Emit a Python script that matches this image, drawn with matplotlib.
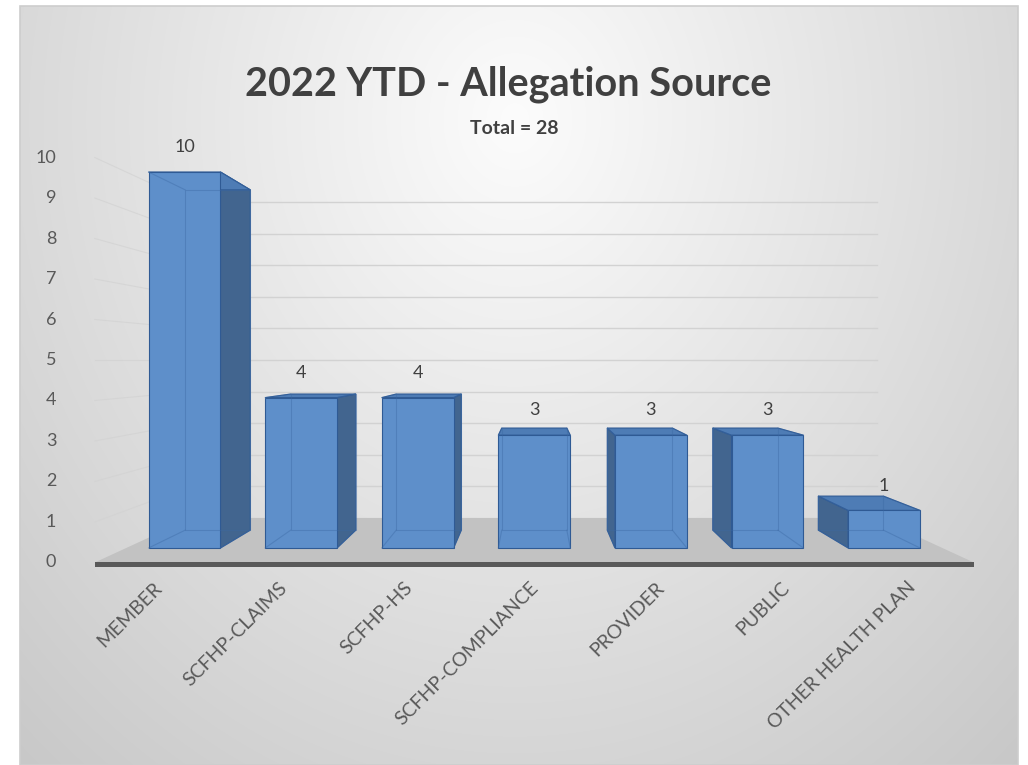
import numpy as np
import matplotlib
matplotlib.use("Agg")
import matplotlib.pyplot as plt
from matplotlib.patches import Polygon, Rectangle

# ---------------- data ----------------
categories = ["MEMBER", "SCFHP-CLAIMS", "SCFHP-HS", "SCFHP-COMPLIANCE",
              "PROVIDER", "PUBLIC", "OTHER HEALTH PLAN"]
counts = [10, 4, 4, 3, 3, 3, 1]
y_ticks = list(range(0, 11))
title_text = "2022 YTD - Allegation Source"
subtitle_text = "Total = 28"

# ---------------- style / layout ----------------
FONT = ["Lato", "DejaVu Sans"]
plt.rcParams["font.family"] = FONT
W, H = 1028, 765
fig = plt.figure(figsize=(W / 100, H / 100), dpi=100)
fig.patch.set_facecolor("white")

# background gradient (chart area)
bg = fig.add_axes([0, 0, 1, 1])
bg.set_xlim(0, W); bg.set_ylim(H, 0); bg.axis("off")
cx0, cy0, cx1, cy1 = 20, 6, 1018, 765
xx, yy = np.meshgrid(np.arange(cx0, cx1) + 0.5, np.arange(cy0, cy1) + 0.5)
r = np.sqrt(((xx - 515) / 600) ** 2 + ((yy - 120) / 700) ** 2)
g = np.clip(252 - 42 * r, 0, 255) / 255
bg.imshow(np.dstack([g, g, g]), extent=(cx0, cx1, cy1, cy0), aspect="auto",
          interpolation="bilinear", zorder=0)
bg.add_patch(Rectangle((cx0, cy0), cx1 - cx0, cy1 - cy0, fill=False,
                       ec="#cdcdcd", lw=1.2, zorder=1))

# main axes: units = categories (x) and values (y) in the bars' front plane
PX_CAT, PX_VAL = 116.6, 37.6
X0_PX, Y0_PX = 184.5, 548.0
ax = fig.add_axes([0, 0, 1, 1])
ax.set_xlim(-X0_PX / PX_CAT, (W - X0_PX) / PX_CAT)
ax.set_ylim((Y0_PX - H) / PX_VAL, Y0_PX / PX_VAL)
ax.axis("off")
ax.patch.set_alpha(0)

n = len(categories)
C = (n - 1) / 2.0   # vanishing point x (category units)
EYE = 5.0           # vanishing point height (value units)
K_AXIS, K_FRONT, K_BACK, K_WALL = 1.077, 1.0, 0.905, 0.84
BW = 0.617


def proj(x, y, k):
    return (C + (x - C) * k, EYE + (y - EYE) * k)


L, R = -0.5, n - 0.5

# gridlines: back wall + left side wall
grid_c = "#d2d2d2"
for v in y_ticks[1:]:
    p1, p2 = proj(L, v, K_WALL), proj(R, v, K_WALL)
    ax.plot([p1[0], p2[0]], [p1[1], p2[1]], color=grid_c, lw=1.0, zorder=2)
    p0 = proj(L, v, K_AXIS)
    ax.plot([p0[0], p1[0]], [p0[1], p1[1]], color=grid_c, lw=0.8, alpha=0.7, zorder=2)

# floor
floor = [proj(L, 0, K_AXIS), proj(R, 0, K_AXIS), proj(R, 0, K_WALL), proj(L, 0, K_WALL)]
ax.add_patch(Polygon(floor, closed=True, fc="#c2c2c2", ec="none", zorder=3))
edge = [proj(L, 0, K_AXIS), proj(R, 0, K_AXIS), proj(R, -0.11, K_AXIS), proj(L, -0.11, K_AXIS)]
ax.add_patch(Polygon(edge, closed=True, fc="#595959", ec="none", zorder=3))

# y tick labels
for v in y_ticks:
    px, py = proj(L, v, K_AXIS)
    ax.text(px - 0.33, py, str(v), ha="right", va="center", fontsize=13,
            color="#595959", zorder=6)

# bars
FRONT_C, SIDE_C, TOP_C, EDGE_C = "#5e8fca", "#42658f", "#4e7cb5", "#2f5a94"
for i, v in enumerate(counts):
    xl, xr = i - BW / 2, i + BW / 2
    z = 10 + i
    if i < C:
        side = [proj(xr, 0, K_FRONT), proj(xr, v, K_FRONT), proj(xr, v, K_BACK), proj(xr, 0, K_BACK)]
        ax.add_patch(Polygon(side, closed=True, fc=SIDE_C, ec=EDGE_C, lw=0.8, zorder=z))
    elif i > C:
        side = [proj(xl, 0, K_FRONT), proj(xl, v, K_FRONT), proj(xl, v, K_BACK), proj(xl, 0, K_BACK)]
        ax.add_patch(Polygon(side, closed=True, fc=SIDE_C, ec=EDGE_C, lw=0.8, zorder=z))
    top = [proj(xl, v, K_FRONT), proj(xr, v, K_FRONT), proj(xr, v, K_BACK), proj(xl, v, K_BACK)]
    ax.add_patch(Polygon(top, closed=True, fc=TOP_C, ec=EDGE_C, lw=0.8, zorder=z))
    ax.bar(i, v, width=BW, bottom=0, color=FRONT_C, edgecolor=EDGE_C, lw=0.8, zorder=z + 0.1)
    # see-through back edges
    back = [proj(xl, 0, K_BACK), proj(xr, 0, K_BACK), proj(xr, v, K_BACK), proj(xl, v, K_BACK)]
    ax.add_patch(Polygon(back, closed=True, fill=False, ec="#3b68a3", lw=0.8,
                         alpha=0.4, zorder=z + 0.2))
    for (xa, ya) in [(xl, 0), (xl, v), (xr, v), (xr, 0)]:
        pf, pb = proj(xa, ya, K_FRONT), proj(xa, ya, K_BACK)
        ax.plot([pf[0], pb[0]], [pf[1], pb[1]], color="#3b68a3", lw=0.8, alpha=0.4, zorder=z + 0.2)
    # data label
    ax.text(i, v + 0.66, str(v), ha="center", va="center", fontsize=13,
            color="#404040", zorder=30)

# category labels
for i, cat in enumerate(categories):
    px, py = proj(i, 0, K_AXIS)
    ax.text(px - 0.04, -0.82, cat, ha="right", va="top", rotation=45,
            rotation_mode="anchor", fontsize=14, color="#595959", zorder=30)

# titles
fig.text(508 / W, 1 - 84 / H, title_text, ha="center", va="center",
         fontsize=28.5, fontweight="bold", color="#404040")
fig.text(514 / W, 1 - 128 / H, subtitle_text, ha="center", va="center",
         fontsize=14, fontweight="bold", color="#404040")

fig.savefig("out.png", dpi=100, facecolor="white")
